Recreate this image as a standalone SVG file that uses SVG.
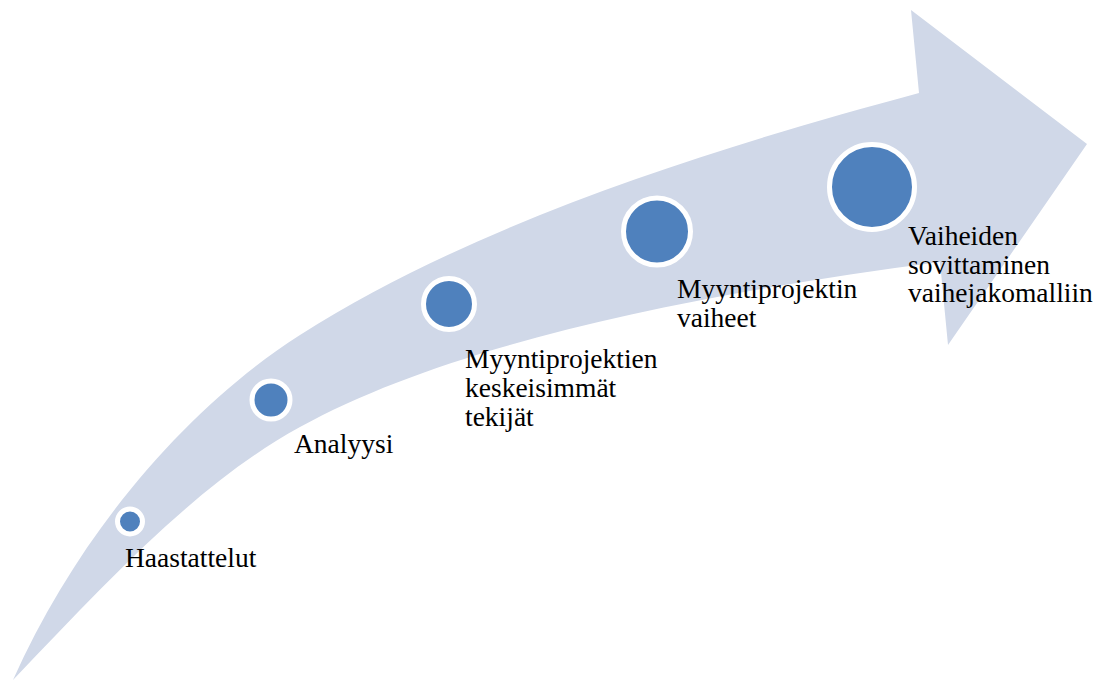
<svg xmlns="http://www.w3.org/2000/svg" width="1104" height="682" viewBox="0 0 1104 682">
  <style>
    .band { fill: #D0D8E8; stroke: none; }
    .dot { fill: #4F81BD; stroke: #FFFFFF; stroke-width: 5; }
    .label { font-family: "Liberation Serif", "Times New Roman", serif; font-size: 27.5px; fill: #000000; }
  </style>

  <!-- Curved process arrow sweeping up to the right -->
  <g id="connectors">
    <path class="band" d="M13,680
      C80,530 190,405 300,335
      C480,220.5 719,147 919,93
      L911,10 L1087,144 L948,345 L940,262
      C690,294.5 450,344.5 300,427
      C200,482 113,575 13,680 Z"/>
  </g>

  <g id="step-haastattelut">
    <circle class="dot" cx="130" cy="521.5" r="12.5"/>
    <text class="label" x="125" y="567">Haastattelut</text>
  </g>

  <g id="step-analyysi">
    <circle class="dot" cx="271" cy="400" r="19"/>
    <text class="label" x="294" y="453">Analyysi</text>
  </g>

  <g id="step-tekijat">
    <circle class="dot" cx="449" cy="304" r="25.5"/>
    <text class="label">
      <tspan x="465" y="368">Myyntiprojektien</tspan>
      <tspan x="465" y="396.7">keskeisimmät</tspan>
      <tspan x="465" y="425.5">tekijät</tspan>
    </text>
  </g>

  <g id="step-vaiheet">
    <circle class="dot" cx="657" cy="231.5" r="33.5"/>
    <text class="label">
      <tspan x="677" y="298.3">Myyntiprojektin</tspan>
      <tspan x="677" y="326.8">vaiheet</tspan>
    </text>
  </g>

  <g id="step-sovittaminen">
    <circle class="dot" cx="872" cy="187" r="42.5"/>
    <text class="label">
      <tspan x="908" y="245">Vaiheiden</tspan>
      <tspan x="908" y="273.5">sovittaminen</tspan>
      <tspan x="908" y="302">vaihejakomalliin</tspan>
    </text>
  </g>
</svg>
